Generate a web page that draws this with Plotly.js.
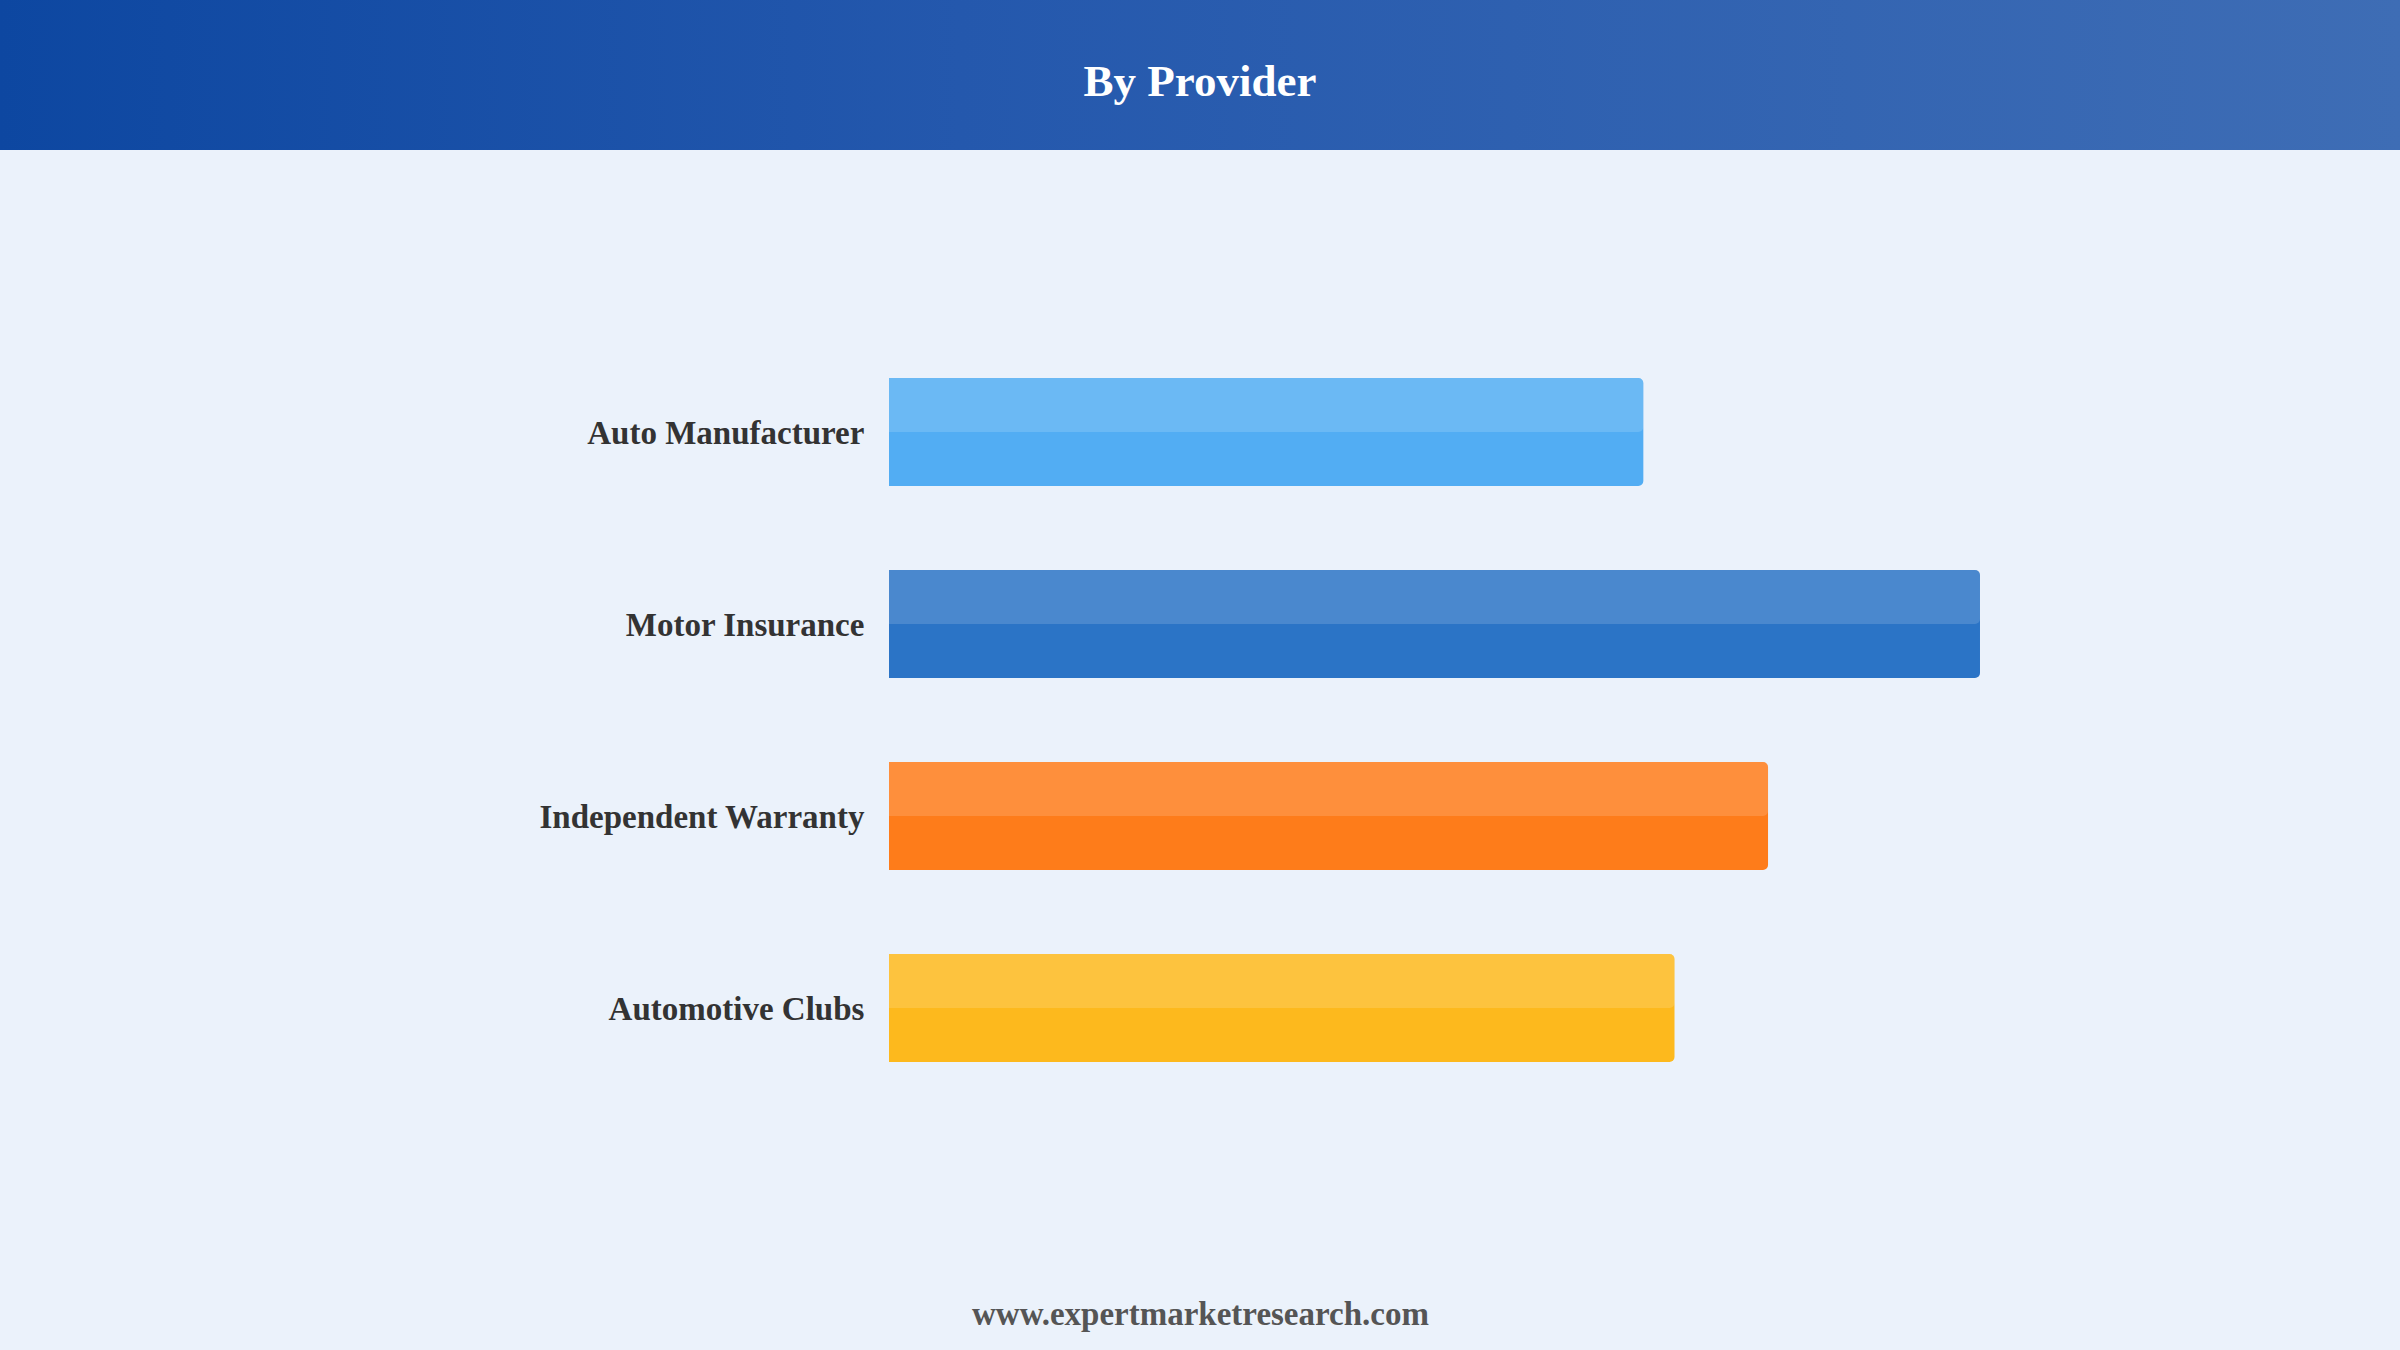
<!DOCTYPE html>
<html>
<head>
<meta charset="utf-8">
<script src="https://cdn.plot.ly/plotly-3.0.1.min.js"></script>
<style>
  body { margin: 0; background: #EBF2FB; }
  #header {
    position: absolute; left: 0; top: 0; width: 2400px; height: 150px;
    background: linear-gradient(90deg, #0D47A1 0%, #2458AD 40%, #3E6DB5 100%);
  }
  #chartDiv { position: absolute; left: 0; top: 0; width: 2400px; height: 1350px; }
</style>
</head>
<body>
<div id="header"></div>
<div id="chartDiv"></div>
<script>
// categories top to bottom
var providers = ["Auto Manufacturer", "Motor Insurance", "Independent Warranty", "Automotive Clubs"];
var shareValues = [24.2, 35.0, 28.2, 25.2];
var barColors = ["#52ADF3", "#2B74C6", "#FE7C1A", "#FDB91D"];

var chartMaker = {

	layout: {
		width: 2400,
		height: 1350,
		paper_bgcolor: "rgba(0,0,0,0)",
		plot_bgcolor: "rgba(0,0,0,0)",
		margin: {l: 889, r: 300, t: 336, b: 246},
		showlegend: false,
		barmode: "overlay",
		title: {
			text: "By Provider",
			font: {family: "Liberation Serif", size: 45, color: "#FFFFFF", weight: "bold"},
			x: 0.5, xanchor: "center",
			yref: "container", y: 1 - 80 / 1350, yanchor: "middle"
		},
		xaxis: {
			range: [0, 38.85],
			visible: false,
			fixedrange: true
		},
		yaxis: {
			type: "category",
			autorange: "reversed",
			showgrid: false,
			zeroline: false,
			showline: false,
			ticks: "outside",
			ticklen: 17,
			tickcolor: "rgba(0,0,0,0)",
			tickfont: {family: "Liberation Serif", size: 33, color: "#333333", weight: "bold"},
			fixedrange: true
		},
		annotations: [{
			text: "www.expertmarketresearch.com",
			xref: "paper", yref: "paper",
			x: 0.5 - (889 - 300) / 2 / 1211, y: -(1314 - 1104) / 768,
			xanchor: "center", yanchor: "middle",
			showarrow: false,
			font: {family: "Liberation Serif", size: 33, color: "#555555", weight: "bold"}
		}]
	},

	makeBars: function() {
		// full bar in the series colour
		var baseTrace = {
			type: "bar",
			orientation: "h",
			y: providers,
			x: shareValues,
			width: 0.5625,
			marker: {color: barColors, cornerradius: 5},
			hoverinfo: "skip"
		};
		// lighter sheen over the top half
		var sheenTrace = {
			type: "bar",
			orientation: "h",
			y: providers,
			x: shareValues,
			width: 0.28125,
			offset: -0.28125,
			marker: {color: "rgba(255,255,255,0.15)", cornerradius: 5},
			hoverinfo: "skip"
		};
		Plotly.newPlot("chartDiv", [baseTrace, sheenTrace], this.layout, {displayModeBar: false, staticPlot: true});
	}
};

chartMaker.makeBars();
</script>
</body>
</html>
